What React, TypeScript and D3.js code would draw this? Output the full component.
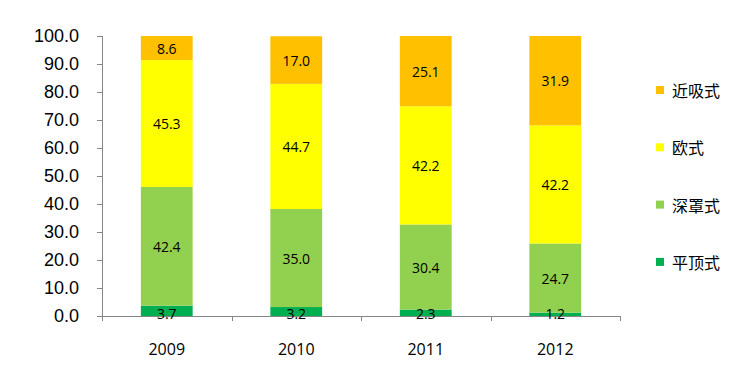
import React from "react";
import * as d3 from "d3";

const years = ["2009", "2010", "2011", "2012"];
const seriesNames = ["平顶式", "深罩式", "欧式", "近吸式"];
const pingding = [3.7, 3.2, 2.3, 1.2];
const shenzhao = [42.4, 35.0, 30.4, 24.7];
const oushi = [45.3, 44.7, 42.2, 42.2];
const jinxi = [8.6, 17.0, 25.1, 31.9];
const yTicks = [0, 10, 20, 30, 40, 50, 60, 70, 80, 90, 100];
const colors = ["#00B050", "#92D050", "#FFFF00", "#FFC000"];

const W = 742, H = 369;
const left = 102, right = 620, top = 36, bottom = 316;

export default function App() {
  const seriesValues = [pingding, shenzhao, oushi, jinxi];
  const table = years.map((y, i) => {
    const row: any = { year: y };
    seriesNames.forEach((s, k) => (row[s] = seriesValues[k][i]));
    return row;
  });
  const stack = d3.stack<any>().keys(seriesNames)(table);
  const x = d3.scaleBand().domain(years).range([left, right]).paddingInner(0.6).paddingOuter(0.3);
  const y = d3.scaleLinear().domain([0, 100]).range([bottom, top]);
  const step = (right - left) / years.length;
  const axisColor = "#868686";

  return (
    <svg width={W} height={H} style={{ position: "absolute", left: 0, top: 0, background: "#fff" }}>
      {stack.map((layer, k) => (
        <g key={layer.key}>
          {layer.map((d, i) => (
            <rect
              key={i}
              x={x(years[i])!}
              y={y(d[1])}
              width={x.bandwidth()}
              height={y(d[0]) - y(d[1])}
              fill={colors[k]}
            />
          ))}
        </g>
      ))}
      {/* axes */}
      <line x1={left + 0.5} x2={left + 0.5} y1={top} y2={bottom} stroke={axisColor} strokeWidth={1} />
      <line x1={left - 5} x2={right} y1={bottom + 0.5} y2={bottom + 0.5} stroke={axisColor} strokeWidth={1} />
      {yTicks.map((t) => (
        <g key={t}>
          <line x1={left - 5} x2={left} y1={y(t) + 0.5} y2={y(t) + 0.5} stroke={axisColor} />
          <text
            x={79}
            y={y(t)}
            textAnchor="end"
            dominantBaseline="central"
            fontFamily="'Liberation Sans', Arial, sans-serif"
            fontSize={18}
            fill="#000"
          >
            {t.toFixed(1)}
          </text>
        </g>
      ))}
      {d3.range(years.length + 1).map((i) => (
        <line
          key={i}
          x1={Math.round(left + step * i) + 0.5}
          x2={Math.round(left + step * i) + 0.5}
          y1={bottom}
          y2={bottom + 5}
          stroke={axisColor}
        />
      ))}
      {years.map((yr) => (
        <text
          key={yr}
          x={x(yr)! + x.bandwidth() / 2}
          y={355}
          textAnchor="middle"
          fontFamily="'Open Sans', 'Noto Sans', sans-serif"
          fontSize={16}
          fill="#000"
        >
          {yr}
        </text>
      ))}
      {/* data labels */}
      {stack.map((layer, k) =>
        layer.map((d, i) => (
          <text
            key={`${k}-${i}`}
            x={x(years[i])! + x.bandwidth() / 2}
            y={k === 0 ? y(0) - 3 : (y(d[0]) + y(d[1])) / 2}
            textAnchor="middle"
            dominantBaseline="central"
            fontFamily="'Open Sans', 'Noto Sans', sans-serif"
            fontSize={14}
            fill="#000"
          >
            {seriesValues[k][i].toFixed(1)}
          </text>
        ))
      )}
      {/* legend */}
      {[3, 2, 1, 0].map((k, j) => (
        <g key={k} transform={`translate(656, ${90 + j * 57.3})`}>
          <rect x={0} y={-4} width={8} height={8} fill={colors[k]} />
          <text
            x={16}
            y={0}
            dominantBaseline="central"
            fontFamily="'Noto Sans CJK SC', sans-serif"
            fontSize={16}
            fill="#000"
          >
            {seriesNames[k]}
          </text>
        </g>
      ))}
    </svg>
  );
}
